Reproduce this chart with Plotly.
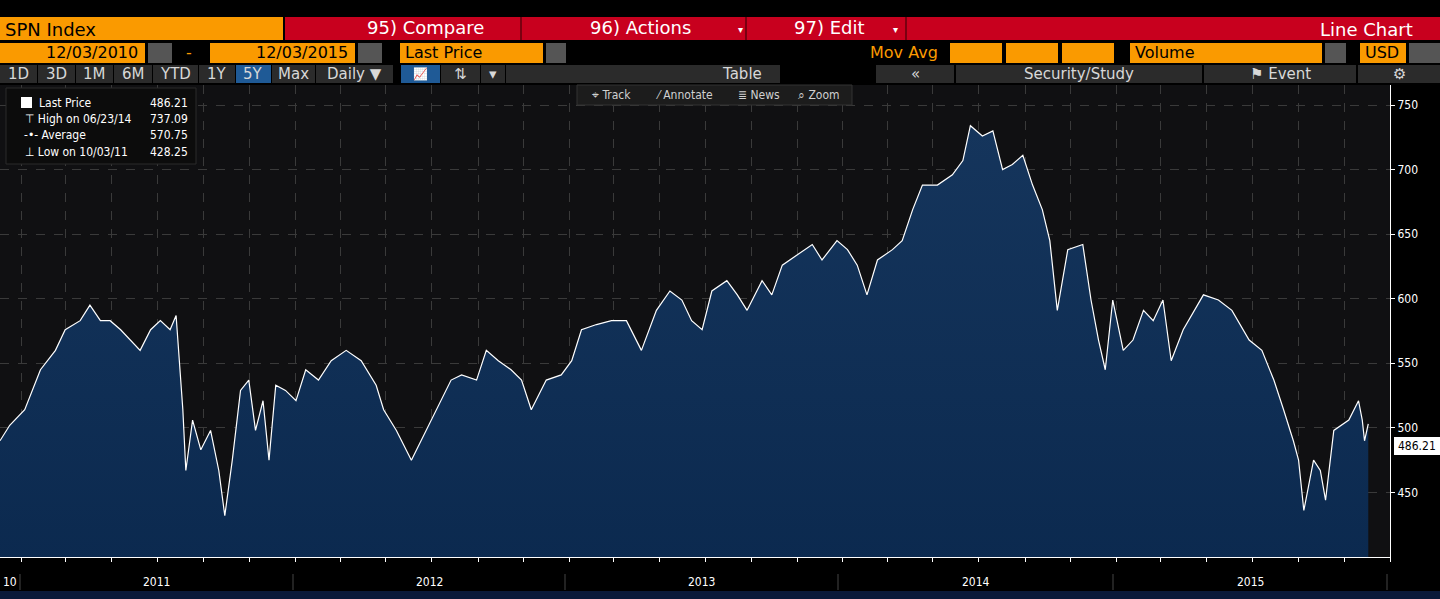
import pandas as pd
import plotly.graph_objects as go

# SPN Index, last price (days since 12/03/2010)
start = "2010-12-03"
day_offset = [0, 13, 33, 54, 74, 87, 107, 120, 134, 147, 161, 174, 187, 201, 214, 227, 235, 244,
              248, 257, 268, 281, 292, 300, 310, 321, 332, 341, 351, 359, 368, 381, 395, 408, 425,
              442, 462, 482, 502, 512, 529, 549, 562, 575, 589, 602, 616, 636, 649, 665, 682, 696,
              709, 729, 749, 763, 776, 796, 816, 836, 856, 876, 894, 910, 923, 937, 950, 970, 984,
              997, 1017, 1030, 1044, 1064, 1084, 1097, 1117, 1131, 1144, 1157, 1171, 1191, 1204,
              1218, 1231, 1251, 1271, 1285, 1295, 1311, 1325, 1338, 1351, 1365, 1378, 1391, 1401,
              1411, 1425, 1445, 1456, 1466, 1475, 1485, 1499, 1512, 1526, 1539, 1552, 1563, 1579,
              1606, 1626, 1644, 1667, 1684, 1700, 1713, 1726, 1733, 1740, 1753, 1762, 1769, 1780,
              1800, 1813, 1818, 1821, 1826]
price = [490, 502, 514, 545, 560, 576, 583, 595, 583, 583, 576, 568, 560, 576, 583, 576, 587, 514,
         467, 506, 483, 498, 467, 432, 475, 529, 537, 498, 521, 475, 533, 529, 521, 545, 537,
         552, 560, 552, 533, 514, 498, 475, 490, 506, 521, 537, 541, 537, 560, 552, 545, 537,
         514, 537, 541, 552, 576, 580, 583, 583, 560, 591, 606, 599, 583, 576, 606, 614, 603,
         591, 614, 603, 626, 634, 642, 630, 645, 638, 626, 603, 630, 638, 645, 669, 688, 688,
         696, 707, 734, 726, 730, 700, 704, 711, 688, 669, 645, 591, 638, 642, 599, 568, 545,
         599, 560, 568, 591, 583, 599, 552, 576, 603, 599, 591, 568, 560, 537, 514, 490, 475,
         436, 475, 467, 444, 498, 506, 521, 506, 490, 503, 486]
year_labels = ["2011", "2012", "2013", "2014", "2015"]
dates = pd.to_datetime(start) + pd.to_timedelta(day_offset, unit="D")

W, H = 1440, 599
L, R, T, B = 0, 50, 85, 42
PW, PH = W - L - R, H - T - B
NARROW = "DejaVu Sans Condensed, Roboto, sans-serif"


def px(x):
    return (x - L) / PW


def py(y):
    return (H - B - y) / PH


fig = go.Figure()
fig.add_trace(go.Scatter(
    x=dates, y=price, mode="lines", line=dict(color="white", width=1.2),
    fill="tozeroy",
    fillgradient=dict(type="vertical", colorscale=[[0, "#001c40"], [1, "#15355c"]]),
    hoverinfo="skip", showlegend=False))

shapes = []
annots = []


def box(x0, y0, x1, y1, color, line=None):
    shapes.append(dict(type="rect", xref="paper", yref="paper", x0=px(x0), x1=px(x1),
                       y0=py(y1), y1=py(y0), fillcolor=color, layer="above",
                       line=dict(width=1 if line else 0, color=line or color)))


def text(x, y, s, color="white", size=14, anchor="left", family="DejaVu Sans"):
    annots.append(dict(xref="paper", yref="paper", x=px(x), y=py(y), text=s, showarrow=False,
                       xanchor=anchor, yanchor="middle",
                       font=dict(color=color, size=size, family=family)))


# row 1
box(0, 17, 283, 40, "#fa9a00")
text(3, 29, "SPN Index", "black", 18)
box(285, 17, 1440, 40, "#c8001e")
for sx in [520, 745, 905]:
    box(sx, 17, sx + 2, 40, "#7a0010")
text(425, 28, "95) Compare", size=18, anchor="center")
text(640, 28, "96) Actions", size=18, anchor="center")
text(830, 28, "97) Edit", size=18, anchor="center")
text(740, 30, "▾", size=10, anchor="center")
text(896, 30, "▾", size=10, anchor="center")
text(1415, 29, "Line Chart", size=18, anchor="right")
# row 2
box(0, 43, 145, 63, "#fa9a00")
text(140, 53, "12/03/2010", "black", 16, "right")
box(148, 43, 172, 63, "#555")
text(189, 53, "-", "#fa9a00", 16, "center")
box(210, 43, 355, 63, "#fa9a00")
text(350, 53, "12/03/2015", "black", 16, "right")
box(358, 43, 382, 63, "#555")
box(400, 43, 543, 63, "#fa9a00")
text(403, 53, "Last Price", "black", 16)
box(546, 43, 566, 63, "#555")
text(940, 53, "Mov Avg", "#fa9a00", 16, "right")
for bx in [950, 1006, 1062]:
    box(bx, 43, bx + 52, 63, "#fa9a00")
box(1130, 43, 1322, 63, "#fa9a00")
text(1133, 53, "Volume", "black", 16)
box(1325, 43, 1346, 63, "#555")
box(1360, 43, 1406, 63, "#fa9a00")
text(1363, 53, "USD", "black", 16)
box(1409, 43, 1440, 63, "#555")
# row 3
tabs = [(0, 37, "1D"), (38, 75, "3D"), (76, 113, "1M"), (114, 152, "6M"), (153, 198, "YTD"),
        (199, 235, "1Y"), (236, 271, "5Y"), (272, 315, "Max"), (316, 393, "Daily ▼"),
        (401, 440, ""), (441, 480, "⇅"), (481, 505, "▾"), (506, 780, ""),
        (876, 954, "«"), (956, 1202, "Security/Study"), (1204, 1356, "⚑ Event"),
        (1358, 1440, "⚙")]
for x0, x1, s in tabs:
    c = "#1f5a96" if s in ("5Y",) or x0 == 401 else "#2b2b2b"
    box(x0, 65, x1, 83, c)
    if s:
        text((x0 + x1) / 2, 74, s, "#d8d8d8", 15, "center")
text(742, 74, "Table", "#d8d8d8", 15, "center")
text(420, 74, "📈", "#d8d8d8", 12, "center")
# track toolbar
box(577, 85, 852, 105, "#1c1c1c", "#333")
text(611, 95, "⌖ Track", "#d0d0d0", 12, "center", NARROW)
text(684, 95, "⁄ Annotate", "#d0d0d0", 12, "center", NARROW)
text(759, 95, "≣ News", "#d0d0d0", 12, "center", NARROW)
text(819, 95, "⌕ Zoom", "#d0d0d0", 12, "center", NARROW)
# legend box
box(6, 88, 196, 164, "#0c0c0c", "#2a2a2a")
box(21, 97, 32, 108, "white")
text(37, 103, "Last Price", size=12, family=NARROW)
text(190, 103, "486.21", size=12, anchor="right", family=NARROW)
text(23, 119, "⊤ High on 06/23/14", size=12, family=NARROW)
text(190, 119, "737.09", size=12, anchor="right", family=NARROW)
text(22, 135, "-•- Average", size=12, family=NARROW)
text(190, 135, "570.75", size=12, anchor="right", family=NARROW)
text(23, 152, "⊥ Low on 10/03/11", size=12, family=NARROW)
text(190, 152, "428.25", size=12, anchor="right", family=NARROW)
# last price tag
box(1394, 437, 1440, 455, "white")
text(1417, 446, "486.21", "black", 12, "center", NARROW)
# year axis
bounds = [20, 293, 565, 838, 1113, 1387]
text(1, 582, "10", size=12, family=NARROW)
for i, lab in enumerate(year_labels):
    text((bounds[i] + bounds[i + 1]) / 2, 582, lab, size=12, anchor="center", family=NARROW)
for bx in bounds:
    shapes.append(dict(type="line", xref="paper", yref="paper", x0=px(bx), x1=px(bx),
                       y0=py(590), y1=py(574), line=dict(color="#444", width=1)))
box(0, 591, 1440, 599, "#0a1a3a")

fig.update_layout(
    width=W, height=H, margin=dict(l=L, r=R, t=T, b=B),
    paper_bgcolor="black", plot_bgcolor="#101012",
    shapes=shapes, annotations=annots,
    xaxis=dict(range=["2010-12-03", "2016-01-01"], showgrid=True, gridcolor="#3a3a3a",
               griddash="dash", dtick="M2", tick0="2011-01-01", showticklabels=False,
               ticks="outside", ticklen=4, tickcolor="white", showline=True,
               linecolor="white", zeroline=False),
    yaxis=dict(range=[400, 765.5], side="right", tickvals=[450, 500, 550, 600, 650, 700, 750],
               showgrid=True, gridcolor="#3a3a3a", griddash="dash", ticks="outside", ticklen=4,
               tickcolor="white", showline=True, linecolor="white", zeroline=False,
               tickfont=dict(color="white", size=12, family=NARROW)),
)

fig.write_html("out.html", config={"displayModeBar": False},
               post_script="document.body.style.margin='0';"
               "document.body.style.background='black';")
